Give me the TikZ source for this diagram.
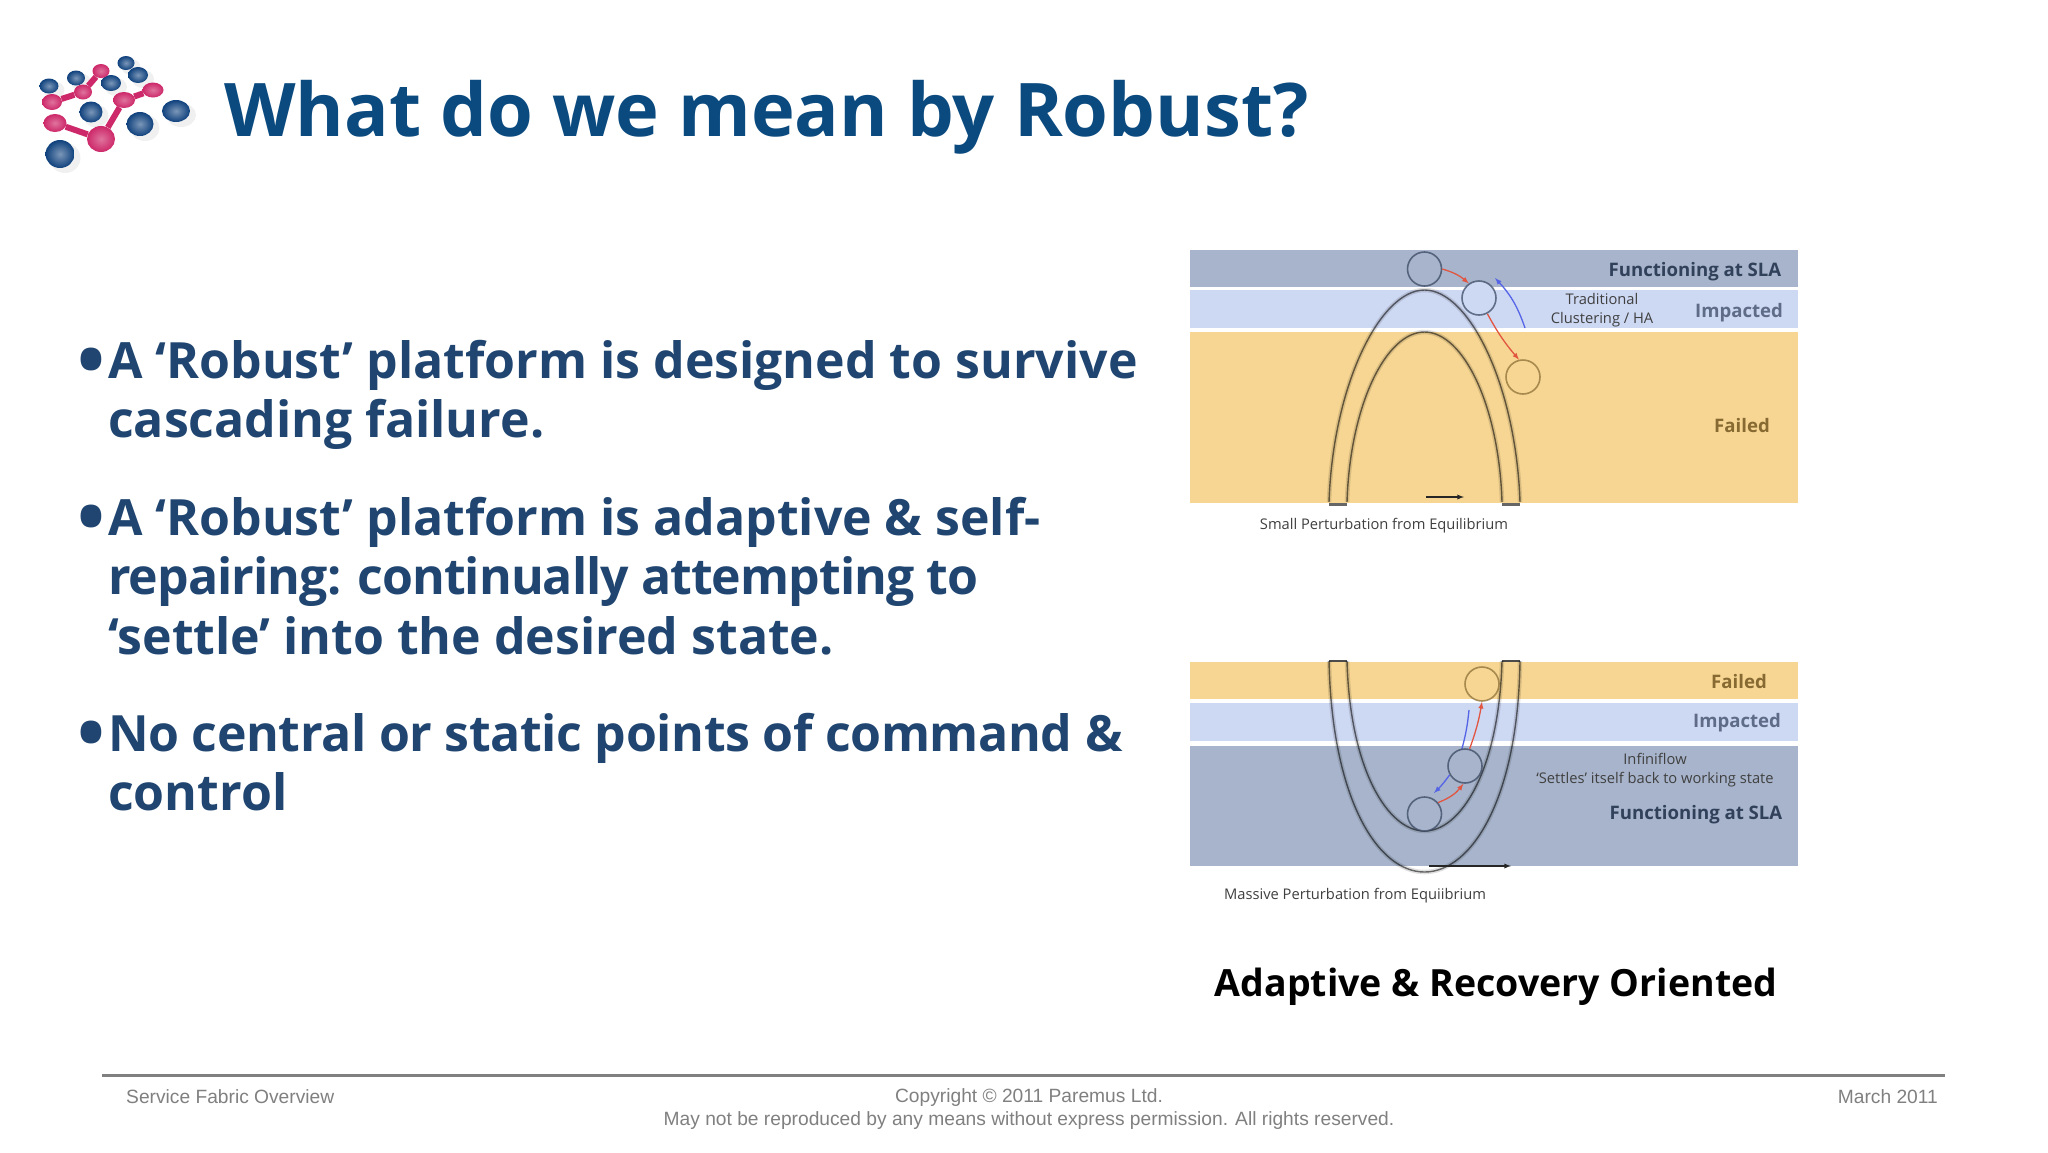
\documentclass[tikz,border=0pt]{standalone}
\usepackage{fontspec}
\usetikzlibrary{shapes.geometric}
\setmainfont{Open Sans}
\newfontfamily\footfont{Liberation Sans}
\definecolor{titleblue}{RGB}{10,74,127}
\definecolor{bodyblue}{RGB}{31,69,112}
\definecolor{bandfunc}{RGB}{167,180,203}
\definecolor{bandimp}{RGB}{205,216,243}
\definecolor{bandfail}{RGB}{246,214,146}
\definecolor{logoblue}{RGB}{15,65,125}
\definecolor{logopink}{RGB}{205,40,105}
\definecolor{slatetext}{RGB}{50,65,90}
\definecolor{failtext}{RGB}{135,105,50}
\definecolor{imptext}{RGB}{95,108,135}
\definecolor{arrowred}{RGB}{225,85,65}
\definecolor{arrowblue}{RGB}{85,100,230}
\begin{document}
\begin{tikzpicture}[x=1pt, y=-1pt, inner sep=0pt,
		titlestyle/.style={font=\fontsize{74}{74}\selectfont\bfseries, text=titleblue, anchor=base west},
		bodystyle/.style={font=\fontsize{50}{59.5}\selectfont\bfseries, text=bodyblue, anchor=north west, align=left},
		dotstyle/.style={font=\fontsize{74}{74}\selectfont\bfseries, text=bodyblue, anchor=base},
		bandlabel/.style={font=\fontsize{18.6}{20}\selectfont\bfseries, text=#1},
		smalllabel/.style={font=\fontsize{14.7}{19}\selectfont, text=black!75, align=center},
		footstyle/.style={font=\fontsize{19.2}{23.5}\selectfont\footfont, text=black!50},
		ballstyle/.style={draw=slatetext, draw opacity=0.7, line width=1.6pt, circle, minimum size=34pt},
		archline/.style={draw=black, draw opacity=0.55, line width=1.4pt},
		archshade/.style={draw=black, draw opacity=0.12, line width=4.5pt},
		redarrow/.style={-latex, draw=arrowred, line width=1.3pt},
		bluearrow/.style={-latex, draw=arrowblue, line width=1.3pt},
		blackarrow/.style={-latex, draw=black!85, line width=1.3pt},
		bluedot/.style={ellipse, shading=radial, inner color=logoblue!55!white, outer color=logoblue},
		pinkdot/.style={ellipse, shading=radial, inner color=logopink!65!white, outer color=logopink}]
	\useasboundingbox (0,0) rectangle (2048,1152);
	\fill [white] (0,0) rectangle (2048,1152);

	\foreach \nm/\px/\py/\rw/\rh in {u1/126/63/17/14, u2/138/75/20/16, u3/76/78/18/15, u4/49/86/19/15, u5/111/83/20/16, u6/91/112/23/21, u7/140/124/27/24, u8/176/111/28/22, u9/60/154/29/28}
		\fill [black, opacity=0.06] (\px+5,\py+4) ellipse ({\rw/2+1} and {\rh/2+1});
	\foreach \nm/\px/\py/\rw/\rh in {u1/126/63/17/14, u2/138/75/20/16, u3/76/78/18/15, u4/49/86/19/15, u5/111/83/20/16, u6/91/112/23/21, u7/140/124/27/24, u8/176/111/28/22, u9/60/154/29/28}
		\node [bluedot, minimum width=\rw pt, minimum height=\rh pt] (\nm) at (\px,\py) {};
	\foreach \nm/\px/\py/\rw/\rh in {p1/101/71/17/14, p2/83/92/18/15, p3/52/102/20/16, p4/153/90/21/15, p5/124/100/22/16, p6/55/123/23/18, p7/101/139/28/26}
		\node [pinkdot, minimum width=\rw pt, minimum height=\rh pt] (\nm) at (\px,\py) {};
	\foreach \i/\j in {p1/p2, p2/p3, p4/p5, p5/p7, p7/p6}
		\draw [logopink, line width=6pt] (\i) -- (\j);

	\node [titlestyle] (title) at (224,136) {What do we mean by Robust?};

	\node [dotstyle] (dota) at (91,386) {•};
	\node [bodystyle] (parta) at (108,340) {A ‘Robust’ platform is designed to survive\\cascading failure.};
	\node [dotstyle] (dotb) at (91,543) {•};
	\node [bodystyle] (partb) at (108,497) {A ‘Robust’ platform is adaptive \& self-\\{\addfontfeature{LetterSpace=-1.9}repairing: continually attempting to}\\‘settle’ into the desired state.};
	\node [dotstyle] (dotc) at (91,759) {•};
	\node [bodystyle] (partc) at (108,713) {{\addfontfeature{LetterSpace=-0.8}No central or static points of command \&}\\control};

	\fill [bandfunc] (1190,250) rectangle (1798,287);
	\fill [bandimp] (1190,290) rectangle (1798,328);
	\fill [bandfail] (1190,332) rectangle (1798,503);

	\draw [archshade] (1329,502) .. controls (1333,385) and (1380,290) .. (1424.5,290) .. controls (1469,290) and (1516,385) .. (1520,502);
	\draw [archshade] (1347,502) .. controls (1350,405) and (1386,332) .. (1424.5,332) .. controls (1463,332) and (1499,405) .. (1502,502);
	\draw [archline] (1329,502) .. controls (1333,385) and (1380,290) .. (1424.5,290) .. controls (1469,290) and (1516,385) .. (1520,502);
	\draw [archline] (1347,502) .. controls (1350,405) and (1386,332) .. (1424.5,332) .. controls (1463,332) and (1499,405) .. (1502,502);
	\draw [black, draw opacity=0.6, line width=3pt] (1329,504) -- (1347,504);
	\draw [black, draw opacity=0.6, line width=3pt] (1502,504) -- (1520,504);

	\node [ballstyle, fill=bandfunc] (topa) at (1424.5,269) {};
	\node [ballstyle, fill=bandimp] (topb) at (1479,298) {};
	\node [ballstyle, fill=bandfail, draw=failtext] (topc) at (1523,377) {};
	\coordinate (freea) at (1525,328);
	\coordinate (freeb) at (1495,278);
	\coordinate (pusha) at (1426,497);
	\coordinate (pushb) at (1464,497);
	\draw [redarrow] (topa.east) to [bend left=12] (topb.125);
	\draw [redarrow] (topb.-62) to [bend right=6] (topc.103);
	\draw [bluearrow] (freea) to [bend right=12] (freeb);
	\draw [blackarrow] (pusha) -- (pushb);

	\node [bandlabel=slatetext] (funca) at (1695,272) {Functioning at SLA};
	\node [bandlabel=imptext] (impa) at (1739,313) {Impacted};
	\node [bandlabel=failtext] (faila) at (1742,426) {Failed};
	\node [smalllabel] (clusta) at (1602,310) {Traditional\\Clustering / HA};
	\node [smalllabel] (smalla) at (1384,526) {Small Perturbation from Equilibrium};

	\fill [bandfail] (1190,662) rectangle (1798,699);
	\fill [bandimp] (1190,703) rectangle (1798,741);
	\fill [bandfunc] (1190,746) rectangle (1798,866);

	\draw [archshade] (1329,661) .. controls (1332,800) and (1378,872) .. (1424.5,872) .. controls (1471,872) and (1518,800) .. (1520,661);
	\draw [archshade] (1347,661) .. controls (1350,770) and (1388,831) .. (1424.5,831) .. controls (1461,831) and (1499,770) .. (1502,661);
	\draw [archline] (1329,661) .. controls (1332,800) and (1378,872) .. (1424.5,872) .. controls (1471,872) and (1518,800) .. (1520,661);
	\draw [archline] (1347,661) .. controls (1350,770) and (1388,831) .. (1424.5,831) .. controls (1461,831) and (1499,770) .. (1502,661);
	\draw [black, draw opacity=0.7, line width=2pt] (1329,661) -- (1347,661);
	\draw [black, draw opacity=0.7, line width=2pt] (1502,661) -- (1520,661);

	\coordinate (freec) at (1469,710);
	\coordinate (freed) at (1461,752);
	\coordinate (freee) at (1434,793);
	\coordinate (pushc) at (1429,866);
	\coordinate (pushd) at (1511,866);
	\draw [bluearrow, -] (freec) to [bend left=5] (freed);
	\node [ballstyle, fill=bandfail, draw=failtext] (lowc) at (1482,684) {};
	\node [ballstyle, fill=bandfunc] (lowb) at (1465,766) {};
	\node [ballstyle, fill=bandfunc] (lowa) at (1424.5,814) {};
	\draw [redarrow] (lowa.40) to [bend right=15] (lowb.-95);
	\draw [redarrow] (lowb.75) to [bend right=5] (lowc.south);
	\draw [bluearrow] (lowb.-150) to [bend left=5] (freee);
	\draw [blackarrow] (pushc) -- (pushd);

	\node [bandlabel=failtext] (failb) at (1739,682) {Failed};
	\node [bandlabel=imptext] (impb) at (1737,723) {Impacted};
	\node [smalllabel] (infb) at (1655,770) {Infiniflow\\‘Settles’ itself back to working state};
	\node [bandlabel=slatetext] (funcb) at (1696,815) {Functioning at SLA};
	\node [smalllabel] (massb) at (1355,896) {Massive Perturbation from Equiibrium};

	\node [font=\fontsize{37.5}{38}\selectfont\bfseries, text=black] (caption) at (1496,987) {Adaptive \& Recovery Oriented};

	\coordinate (rulea) at (102,1075);
	\coordinate (ruleb) at (1945,1075);
	\draw [black!50, line width=3pt] (rulea) -- (ruleb);
	\node [footstyle, anchor=west] (footl) at (126,1097) {Service Fabric Overview};
	\node [footstyle, align=center] (footc) at (1029,1109) {Copyright © 2011 Paremus Ltd.\\May not be reproduced by any means without express permission. All rights reserved.};
	\node [footstyle, anchor=east] (footr) at (1938,1097) {March 2011};
\end{tikzpicture}
\end{document}
